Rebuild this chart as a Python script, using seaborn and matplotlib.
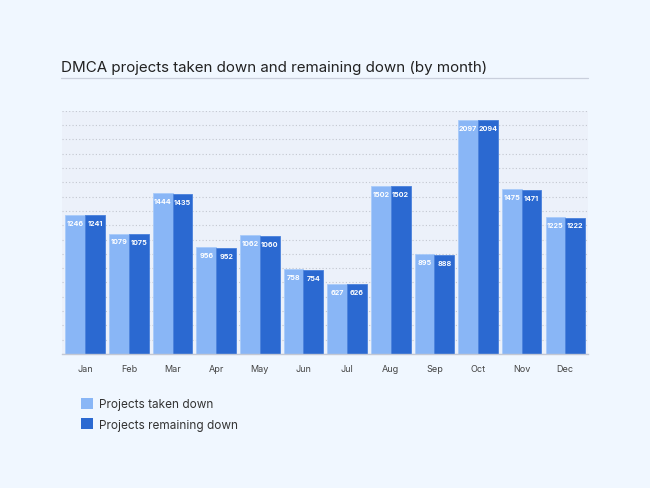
import numpy as np
import pandas as pd
import seaborn as sns
import matplotlib.pyplot as plt
from matplotlib.patches import Patch
from matplotlib.lines import Line2D

months = ['Jan', 'Feb', 'Mar', 'Apr', 'May', 'Jun', 'Jul', 'Aug', 'Sep', 'Oct', 'Nov', 'Dec']
taken_down = [1246, 1079, 1444, 956, 1062, 758, 627, 1502, 895, 2097, 1475, 1225]
remaining_down = [1241, 1075, 1435, 952, 1060, 754, 626, 1502, 888, 2094, 1471, 1222]
series = ['Projects taken down', 'Projects remaining down']

light = '#89b6f6'
dark = '#2b69d1'

df = pd.DataFrame({
    'month': months * 2,
    'value': taken_down + remaining_down,
    'series': [series[0]] * 12 + [series[1]] * 12,
})

sns.set_style('white')
plt.rcParams['font.family'] = ['Inter', 'DejaVu Sans']

fig = plt.figure(figsize=(6.5, 4.89), dpi=100)
fig.patch.set_facecolor('#f0f7ff')
ax = fig.add_axes([62 / 650, 1 - 355 / 489, 526 / 650, (355 - 111.7) / 489])
ax.set_facecolor('#ecf1fa')

sns.barplot(data=df, x='month', y='value', hue='series', palette=[light, dark],
            width=0.906, gap=0, saturation=1, legend=False, ax=ax,
            edgecolor='none')

# thin lighter outline like the original
for p in ax.containers[0]:
    p.set_edgecolor('#a9cbfa')
    p.set_linewidth(0.6)
for p in ax.containers[1]:
    p.set_edgecolor('#4a82dc')
    p.set_linewidth(0.6)

for cont in ax.containers:
    for p in cont:
        h = p.get_height()
        ax.annotate(f'{int(round(h))}', (p.get_x() + p.get_width() / 2, h),
                    xytext=(0, -3.5), textcoords='offset points',
                    ha='center', va='top', fontsize=5.2, fontweight='bold',
                    color='white')

ymax = 2180
ax.set_ylim(0, ymax)
ax.set_xlim(-0.533, 11.52)
ax.set_yticks(np.linspace(0, ymax, 18))
ax.set_yticklabels([])
ax.tick_params(axis='y', length=0)
ax.tick_params(axis='x', length=3, color='#b8bdc8', labelsize=6.5,
               labelcolor='#444444', pad=4)
ax.yaxis.grid(True, linestyle=(0, (1, 2)), color='#c3c7d0', linewidth=0.8)
ax.set_axisbelow(True)
ax.set_xlabel('')
ax.set_ylabel('')
for s in ['left', 'right', 'top']:
    ax.spines[s].set_visible(False)
ax.spines['bottom'].set_color('#c3c8d4')
ax.spines['bottom'].set_linewidth(1)

fig.text(61 / 650, 1 - 68 / 489, 'DMCA projects taken down and remaining down (by month)',
         fontsize=10.9, color='#222222', va='center', ha='left')
fig.add_artist(Line2D([61 / 650, 588 / 650], [1 - 79 / 489, 1 - 79 / 489],
                      color='#c9cfdc', linewidth=0.9, transform=fig.transFigure))

handles = [Patch(facecolor=light, edgecolor='none'), Patch(facecolor=dark, edgecolor='none')]
fig.legend(handles, series, loc='upper left', bbox_to_anchor=(70 / 650, 1 - 388 / 489),
           frameon=False, fontsize=8.5, handlelength=1.05, handleheight=1.05,
           handletextpad=0.5, labelspacing=0.7, labelcolor='#333333')

fig.savefig('out.png', dpi=100, facecolor=fig.get_facecolor())
